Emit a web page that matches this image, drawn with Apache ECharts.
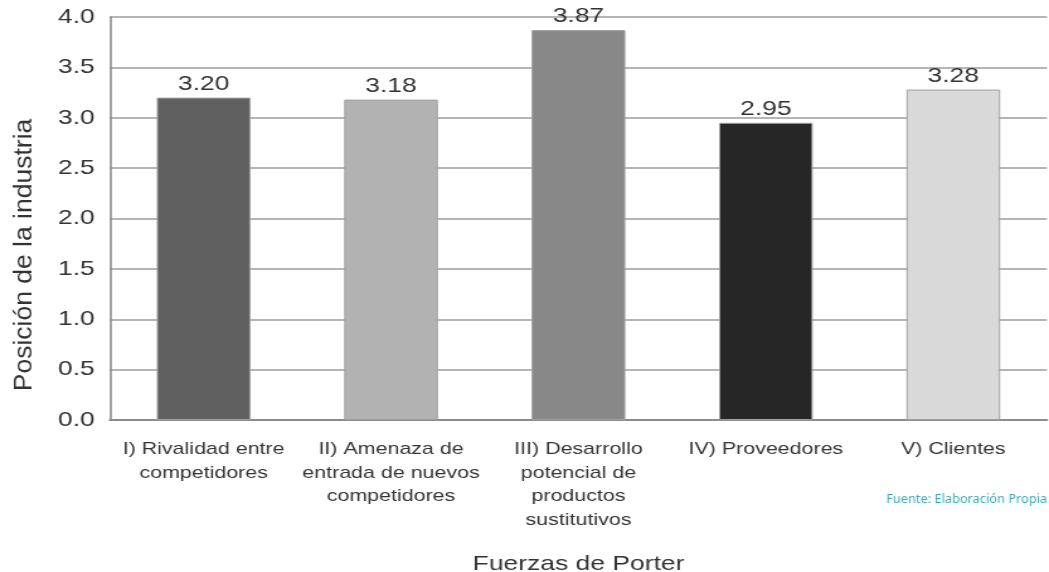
<!DOCTYPE html>
<html><head><meta charset="utf-8">
<script src="https://cdn.jsdelivr.net/npm/echarts@6/dist/echarts.min.js"></script>
<style>
html,body{margin:0;padding:0;background:#fff;overflow:hidden}
#c{width:833px;height:572px;transform:scaleX(1.2593);transform-origin:0 0}
</style>
</head><body><div id="c"></div>
<script>
const categories = [
  "I) Rivalidad entre\ncompetidores",
  "II) Amenaza de\nentrada de nuevos\ncompetidores",
  "III) Desarrollo\npotencial de\nproductos\nsustitutivos",
  "IV) Proveedores",
  "V) Clientes"
];
const values = [3.20, 3.18, 3.87, 2.95, 3.28];
const barColors = ["#5f5f5f", "#b2b2b2", "#888888", "#262626", "#d9d9d9"];
const yAxisName = "Posición de la industria";
const xAxisName = "Fuerzas de Porter";
const sourceText = "Fuente: Elaboración Propia";

const SX = 1049 / 833;
const chart = echarts.init(document.getElementById('c'));
chart.setOption({
  animation: false,
  textStyle: { fontFamily: 'Liberation Sans, Arial, sans-serif' },
  grid: { left: 87.3, right: 1.6, top: 17, bottom: 152, containLabel: false, outerBoundsMode: 'none' },
  xAxis: {
    type: 'category',
    data: categories,
    name: xAxisName,
    nameLocation: 'middle',
    nameGap: 134,
    nameTextStyle: { fontSize: 21, color: '#333' },
    axisLine: { lineStyle: { color: '#8c8c8c', width: 2 } },
    axisTick: { show: false },
    axisLabel: { fontSize: 17, color: '#333', lineHeight: 23.5, margin: 18, interval: 0 }
  },
  yAxis: {
    type: 'value',
    min: 0, max: 4, interval: 0.5,
    axisLine: { show: true, lineStyle: { color: '#8c8c8c', width: 1.6 } },
    axisTick: { show: false },
    splitLine: { lineStyle: { color: '#b5b5b5', width: 2 } },
    axisLabel: { fontSize: 21, color: '#333', margin: 12, formatter: v => v.toFixed(1) }
  },
  series: [{
    type: 'bar',
    barWidth: '50%',
    data: values.map((v, i) => ({ value: v, itemStyle: { color: barColors[i] } })),
    itemStyle: { borderColor: '#a0a0a0', borderWidth: 1 },
    label: {
      show: true, position: 'top', distance: 3,
      fontSize: 21, color: '#333',
      formatter: p => p.value.toFixed(2)
    }
  }],
  graphic: [{
    type: 'text',
    x: 24 / SX, y: 255,
    rotation: Math.PI / 2,
    scaleY: 1 / SX,
    style: { text: yAxisName, fill: '#333', fontSize: 26.5, fontFamily: 'Liberation Sans, Arial, sans-serif', align: 'center', verticalAlign: 'middle' }
  }, {
    type: 'text',
    x: 831.5, y: 499,
    scaleX: 1 / SX,
    style: { text: sourceText, fill: '#3aaab8', fontSize: 12.8, fontFamily: 'Noto Sans', align: 'right', verticalAlign: 'middle' }
  }]
});
</script></body></html>
